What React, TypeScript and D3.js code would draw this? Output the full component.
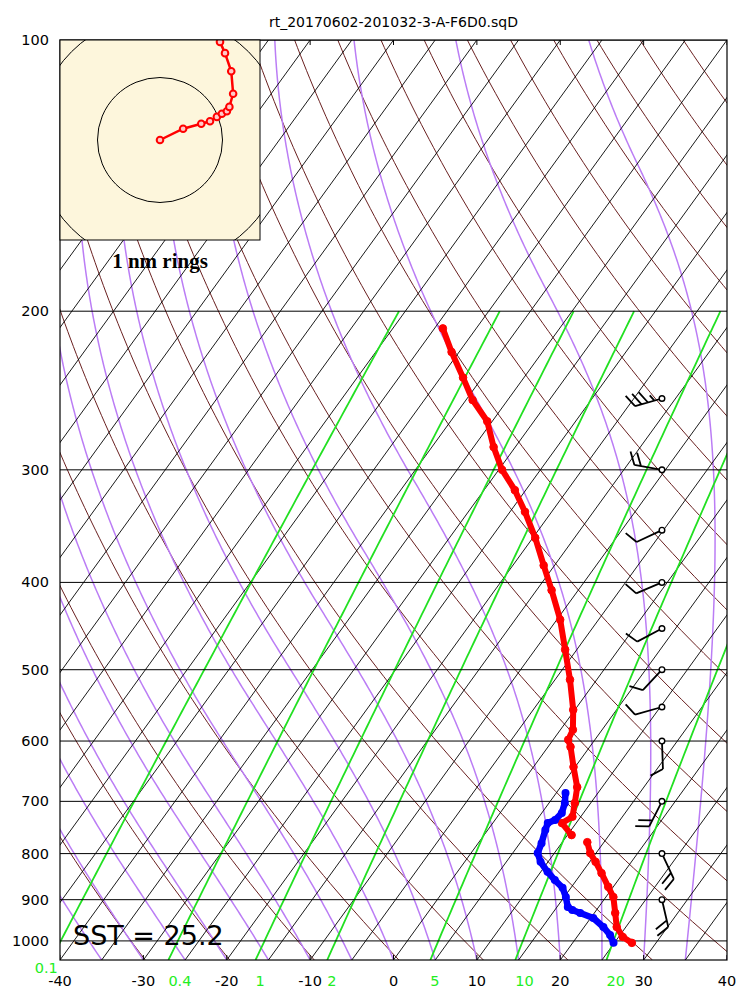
import React, { useEffect } from "react";
import * as d3 from "d3";

// sounding
const title = "rt_20170602-201032-3-A-F6D0.sqD";
const sst = 25.2;

const pressureTicks = [100, 200, 300, 400, 500, 600, 700, 800, 900, 1000];
const tempTicks = [-40, -30, -20, -10, 0, 10, 20, 30, 40];
const mixingRatios = [0.1, 0.4, 1, 2, 5, 10, 20];
const isotherms = d3.range(-120, 45, 5);
const dryThetas = d3.range(200, 460, 10);
const moistStarts = d3.range(-40, 45, 5);

const tempP = [209, 222, 237, 251, 265, 283, 300, 316, 334, 357, 383, 408, 440, 475, 513, 554, 583, 598, 609, 641, 675, 703, 728, 740, 763, NaN, 777, 799, 817, 841, 871, 894, 931, 965, 990, 1005];
const tempT = [-49.0, -45.9, -42.3, -39.2, -35.6, -32.6, -29.6, -26.3, -23.2, -19.7, -16.3, -13.2, -9.6, -6.4, -3.2, -0.2, 1.5, 1.8, 2.7, 4.8, 7.0, 8.1, 9.0, 8.3, 10.5, NaN, 13.0, 14.3, 15.7, 17.4, 19.4, 20.9, 22.5, 23.9, 25.5, 27.1];

const dewP = [685, 703, 721, 734, 740, 753, 779, 799, 817, 838, 856, 873, 894, 917, 924, 931, 943, 965, 985, 1005];
const dewT = [6.1, 6.9, 7.4, 7.2, 6.6, 6.9, 7.6, 8.0, 9.1, 10.8, 12.4, 14.0, 15.2, 16.3, 17.1, 18.3, 20.3, 22.3, 23.8, 24.9];

const windP = [250, 300, 350, 400, 450, 500, 550, 600, 700, 800, 900];
const windDir = [254, 280, 245, 247, 242, 223, 254, 178, 207, 155, 167];
const windSpd = [35, 20, 10, 10, 10, 10, 10, 10, 20, 20, 20];

// balloon drift, nautical miles east / north of launch
const driftE = [0, 0.37, 0.66, 0.8, 0.91, 0.99, 1.07, 1.11, 1.17, 1.14, 1.04, 0.96];
const driftN = [0, 0.18, 0.26, 0.3, 0.37, 0.42, 0.46, 0.53, 0.74, 1.1, 1.39, 1.57];
const rings = [1, 2];

const W = 750;
const H = 1000;
const left = 60, right = 727, top = 40, bottom = 960;

const yP = d3.scaleLog().domain([100, 1050]).range([top, bottom]);
const xT = d3.scaleLinear().domain([-40, 40]).range([left, right]);
const skew = (right - left) / (bottom - top);
const sx = (t: number, p: number) => xT(t) + (bottom - yP(p)) * skew;

const levels = (pTop: number, pBot: number, n = 120) =>
  d3.range(n + 1).map((i) => pBot * Math.pow(pTop / pBot, i / n));

const line = d3
  .line<[number, number]>()
  .defined((d) => !isNaN(d[0]) && !isNaN(d[1]))
  .x((d) => d[0])
  .y((d) => d[1]);

function dewFromMix(w: number, p: number) {
  const e = (w * p) / (622 + w);
  const l = Math.log(e / 6.112);
  return (243.5 * l) / (17.67 - l);
}

// saturated lapse, vapour pressure held at its -40 C value when colder
function moistProfile(t0: number) {
  const Rd = 287.04, Cp = 1005.7, Lv = 2.501e6, eps = 0.622;
  const rate = (T: number, p: number) => {
    const tc = Math.max(T - 273.15, -40);
    const es = 6.112 * Math.exp((17.67 * tc) / (tc + 243.5));
    const rs = (eps * es) / (p - es);
    return (Rd * T + Lv * rs) / (Cp + (Lv * Lv * rs * eps) / (Rd * T * T));
  };
  const ps = levels(100, 1050, 300);
  let T = t0 + 273.15;
  const out: [number, number][] = [[sx(t0, ps[0]), yP(ps[0])]];
  for (let i = 1; i < ps.length; i++) {
    const h = Math.log(ps[i]) - Math.log(ps[i - 1]);
    const k1 = rate(T, ps[i - 1]);
    const k2 = rate(T + h * k1, ps[i]);
    T = T + (h * (k1 + k2)) / 2;
    out.push([sx(T - 273.15, ps[i]), yP(ps[i])]);
  }
  return out;
}

function barbPath(x0: number, y0: number, dir: number, spd: number, len: number) {
  const a = (dir * Math.PI) / 180;
  const dx = Math.sin(a), dy = -Math.cos(a);
  const px = -dy, py = dx;
  const h = len * 0.45, lean = len * 0.22, sp = len * 0.24;
  const at = (o: number, q = 0) => `${x0 + dx * o + px * q},${y0 + dy * o + py * q}`;
  let d = `M${at(0)}L${at(len)}`;
  let s = Math.round(spd / 5) * 5;
  const flags = Math.floor(s / 50);
  s -= flags * 50;
  const full = Math.floor(s / 10);
  const half = s % 10 >= 5;
  let off = len;
  for (let i = 0; i < flags; i++) {
    d += `M${at(off)}L${at(off - sp / 2, h)}L${at(off - sp)}Z`;
    off -= sp * 1.5;
  }
  for (let i = 0; i < full; i++) {
    d += `M${at(off)}L${at(off + lean, h)}`;
    off -= sp;
  }
  if (half) {
    if (off === len) off -= sp;
    d += `M${at(off)}L${at(off + lean / 2, h / 2)}`;
  }
  return d;
}

const App: React.FC = () => {
  useEffect(() => {
    document.body.style.margin = "0";
  }, []);

  const pFull = levels(100, 1050);
  const pMix = levels(200, 1050);

  const isoPaths = isotherms.map((t) => line([[sx(t, 1050), yP(1050)], [sx(t, 100), yP(100)]]));
  const dryPaths = dryThetas.map((th) =>
    line(pFull.map((p) => [sx(th * Math.pow(p / 1000, 0.2857) - 273.15, p), yP(p)] as [number, number]))
  );
  const moistPaths = moistStarts.map((t) => line(moistProfile(t)));
  const mixPaths = mixingRatios.map((w) =>
    line(pMix.map((p) => [sx(dewFromMix(w, p), p), yP(p)] as [number, number]))
  );

  const tempPts = tempP.map((p, i) => [sx(tempT[i], p), yP(p)] as [number, number]);
  const dewPts = dewP.map((p, i) => [sx(dewT[i], p), yP(p)] as [number, number]);

  // inset with balloon drift
  const inset = { x: left, y: top, size: 200 };
  const nm = d3.scaleLinear().domain([-1.6, 1.6]).range([0, inset.size]);
  const nmY = d3.scaleLinear().domain([-1.6, 1.6]).range([inset.size, 0]);
  const cx = inset.x + nm(0), cy = inset.y + nmY(0);
  const driftPts = driftE.map((e, i) => [inset.x + nm(e), inset.y + nmY(driftN[i])] as [number, number]);

  const barbX = xT(32.2);
  const font = "DejaVu Sans, sans-serif";

  return (
    <svg width={W} height={H} style={{ display: "block", background: "#fff" }}>
      <defs>
        <clipPath id="plot">
          <rect x={left} y={top} width={right - left} height={bottom - top} />
        </clipPath>
        <clipPath id="inset">
          <rect x={inset.x} y={inset.y} width={inset.size} height={inset.size} />
        </clipPath>
      </defs>
      <text x={(left + right) / 2} y={27} textAnchor="middle" fontFamily={font} fontSize={14}>
        {title}
      </text>
      <g clipPath="url(#plot)" fill="none">
        {dryPaths.map((d, i) => (
          <path key={"d" + i} d={d || ""} stroke="#6a2020" strokeWidth={1} />
        ))}
        {moistPaths.map((d, i) => (
          <path key={"m" + i} d={d || ""} stroke="#bb7df5" strokeWidth={1.5} />
        ))}
        {isoPaths.map((d, i) => (
          <path key={"t" + i} d={d || ""} stroke="#000" strokeWidth={0.9} />
        ))}
        {mixPaths.map((d, i) => (
          <path key={"w" + i} d={d || ""} stroke="#22e022" strokeWidth={1.8} />
        ))}
        {pressureTicks.map((p) => (
          <line key={p} x1={left} x2={right} y1={yP(p)} y2={yP(p)} stroke="#000" strokeWidth={1} />
        ))}
        {tempTicks.map((t) => (
          <g key={t} stroke="#000">
            <line x1={xT(t)} x2={xT(t)} y1={bottom} y2={bottom - 5} />
            <line x1={xT(t)} x2={xT(t)} y1={top} y2={top + 5} />
          </g>
        ))}
        <path d={line(tempPts) || ""} stroke="#ff0000" strokeWidth={6} strokeLinejoin="round" strokeLinecap="round" />
        {tempPts.filter((d) => !isNaN(d[0])).map((d, i) => (
          <circle key={"tc" + i} cx={d[0]} cy={d[1]} r={3.8} fill="#ff0000" stroke="#ff0000" strokeWidth={1} />
        ))}
        <path d={line(dewPts) || ""} stroke="#0000ff" strokeWidth={6.5} strokeLinejoin="round" strokeLinecap="round" />
        {dewPts.map((d, i) => (
          <circle key={"dc" + i} cx={d[0]} cy={d[1]} r={4} fill="#0000ff" />
        ))}
        {windP.map((p, i) => (
          <g key={"b" + i}>
            <path d={barbPath(barbX, yP(p), windDir[i], windSpd[i], 28)} stroke="#000" strokeWidth={1.8} fill="none" />
            <circle cx={barbX} cy={yP(p)} r={2.8} fill="#fff" stroke="#000" strokeWidth={1.4} />
          </g>
        ))}
      </g>
      <rect x={left} y={top} width={right - left} height={bottom - top} fill="none" stroke="#000" strokeWidth={1.2} />

      <g>
        <rect x={inset.x} y={inset.y} width={inset.size} height={inset.size} fill="#fdf6dc" />
        <g clipPath="url(#inset)">
          {rings.map((r) => (
            <circle key={r} cx={cx} cy={cy} r={nm(r) - nm(0)} fill="none" stroke="#000" strokeWidth={1} />
          ))}
          <path d={line(driftPts) || ""} fill="none" stroke="#ff0000" strokeWidth={2.5} />
          {driftPts.map((d, i) => (
            <circle key={i} cx={d[0]} cy={d[1]} r={3.3} fill="#ffc8c8" stroke="#ff0000" strokeWidth={2} />
          ))}
        </g>
        <rect x={inset.x} y={inset.y} width={inset.size} height={inset.size} fill="none" stroke="#000" strokeWidth={1} />
      </g>
      <text x={inset.x + inset.size / 2} y={268} textAnchor="middle" fontFamily="Liberation Serif, serif" fontWeight="bold" fontSize={21}>
        1 nm rings
      </text>

      <text x={73} y={945} fontFamily={font} fontSize={27}>
        SST = {sst}
      </text>

      {pressureTicks.map((p) => (
        <text key={p} x={49} y={yP(p) + 5} textAnchor="end" fontFamily={font} fontSize={14.5}>
          {p}
        </text>
      ))}
      {tempTicks.map((t) => (
        <text key={t} x={xT(t)} y={986} textAnchor="middle" fontFamily={font} fontSize={14.5}>
          {t}
        </text>
      ))}
      {mixingRatios.map((w, i) => {
        const x0 = sx(dewFromMix(w, 1050), 1050);
        const first = i === 0;
        return (
          <text key={w} x={first ? x0 - 16 : x0} y={first ? 973 : 986} fontFamily={font} fontSize={14.5} fill="#22ee22">
            {w}
          </text>
        );
      })}
    </svg>
  );
};

export default App;
